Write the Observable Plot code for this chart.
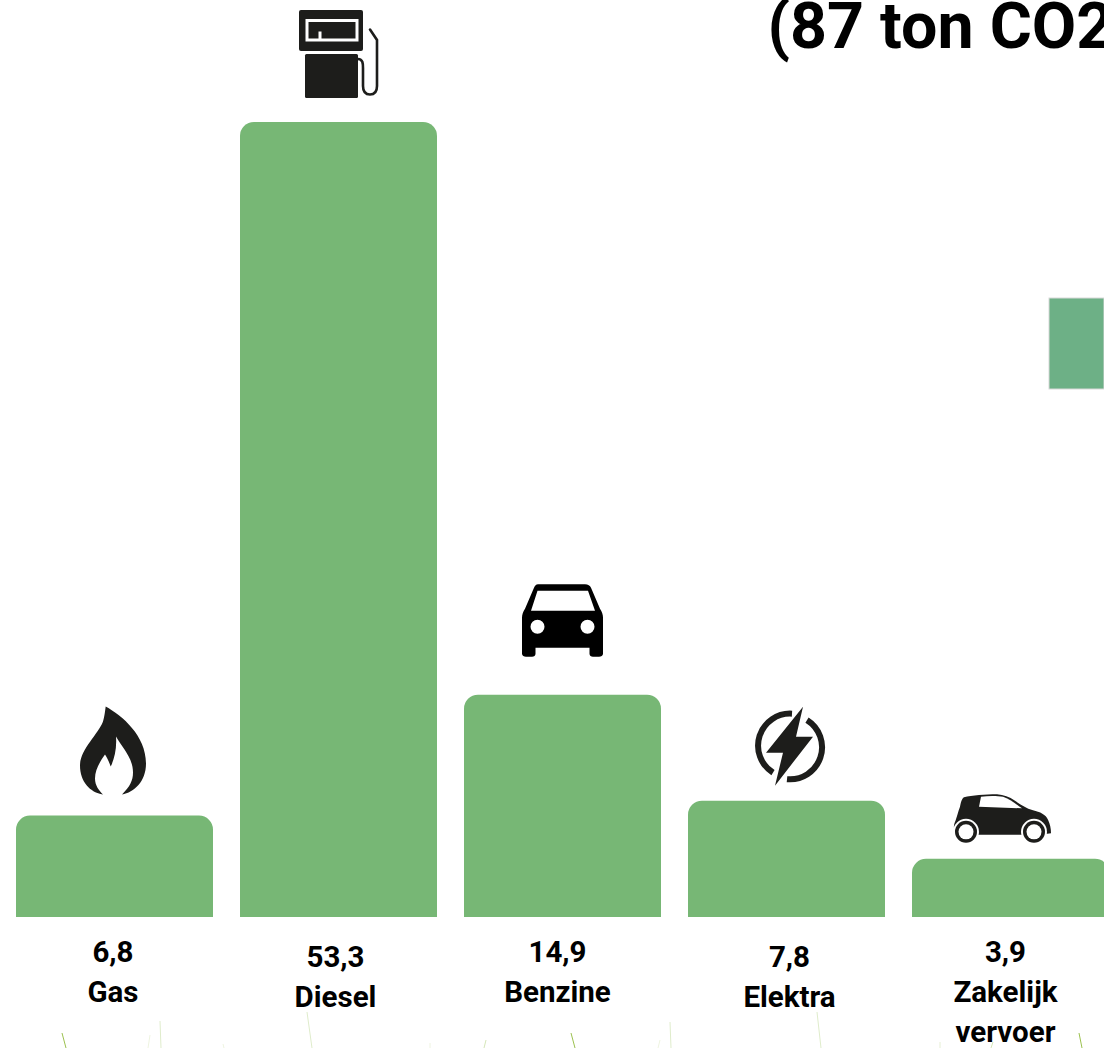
<!DOCTYPE html>
<html>
<head>
<meta charset="utf-8">
<style>
html,body{margin:0;padding:0;background:#fff;overflow:hidden}
svg{display:block}
</style>
<script src="https://cdn.jsdelivr.net/npm/d3@7"></script>
<script src="https://cdn.jsdelivr.net/npm/@observablehq/plot@0.6"></script>
</head>
<body>
<div id="chart"></div>
<script>
const categories = ["Gas", "Diesel", "Benzine", "Elektra", "Zakelijk vervoer"];
const values = [6.8, 53.3, 14.9, 7.8, 3.9];
const valueLabels = ["6,8", "53,3", "14,9", "7,8", "3,9"];
const nameLabels = ["Gas", "Diesel", "Benzine", "Elektra", "Zakelijk\nvervoer"];
const titleText = "(87 ton CO2";

const data = categories.map((c, i) => ({category: c, value: values[i], label: valueLabels[i] + "\n" + nameLabels[i]}));

const GREEN = "#77b775";
const INK = "#1d1d1b";
const labelDx = [-2, -3.5, -5.5, 2.5, -5.5];
const labelDy = [933, 938, 933, 938, 933];

// icon artwork, drawn around the top-centre of each bar
const icons = {
  Gas: {cx: 114.5, top: 816, svg: `<path fill="${INK}" d="M105.7 707C122 716 146 736 146 764C146 782 134 793 122 795C130 787 133 781 133 773C133 758 122 748 116 737C117 750 114 760 110.7 767C109 762 107 758 105 755C100 762 95 770 95 779C95 786 99 791 103 795C90 793 80 782 80 766C80 750 98 735 103 722C104.5 717 105 712 105.7 707Z"/>`},
  Diesel: {cx: 338.5, top: 122, svg: `<rect x="299" y="10" width="64" height="41" rx="2" fill="${INK}"/><path fill="none" stroke="#fff" stroke-width="3" d="M307 20.5H357V40H307ZM320 40V31.5"/><rect x="305" y="54" width="53" height="44" rx="1.5" fill="${INK}"/><path fill="none" stroke="${INK}" stroke-width="2.6" stroke-linecap="round" d="M358 59C363 59 363 64 363 68V86C363 92 366 94.500 370 94.500C374 94.500 377 92 377 86V40L370 29.500"/>`},
  Benzine: {cx: 562.5, top: 695, svg: `<path fill="#000" fill-rule="evenodd" d="M538 584.500H585C588 584.500 590 586 591 588L600 609C602 612 603 615 603 618V654C603 656 601 657 599 657H593C591 657 589.500 656 589.500 654V648H535.500V654C535.500 656 534 657 532 657H526C524 657 522 656 522 654V618C522 615 523 612 525 609L534 588C535 586 536 584.500 538 584.500ZM537.500 591L531 611H595L588 591ZM537.500 620A7 7 0 1 0 537.500 634A7 7 0 1 0 537.500 620ZM587.500 620A7 7 0 1 0 587.500 634A7 7 0 1 0 587.500 620Z"/>`},
  Elektra: {cx: 786.500, top: 801, svg: `<path fill="none" stroke="${INK}" stroke-width="6" d="M792 714A32 32 0 0 0 773 773M807 720.500A32 32 0 0 1 787 779.500"/><path fill="${INK}" d="M803 707L766 753H783L775 786L813 737H796Z"/>`},
  "Zakelijk vervoer": {cx: 1010.500, top: 859, svg: `<path fill="${INK}" d="M955 832C953 828 954 824 955.500 821C957 817 958 812 960 807C961 802 962 798.500 964 797.500C972 795.500 985 794.500 997 794.500C1004 795 1009 797 1015 801C1021 805 1026 808.500 1033 810.500C1040 812 1046 815 1048 820C1050 824 1051 829 1051 833.500L1040 835H960Z"/><path fill="#fff" d="M981 797C988 796 997 796 1003 797C1009 799 1016 804 1022 808.500L979 807Z"/><circle cx="966" cy="832" r="13" fill="#fff"/><circle cx="1034" cy="832" r="13" fill="#fff"/><circle cx="966" cy="832" r="11" fill="${INK}"/><circle cx="1034" cy="832" r="11" fill="${INK}"/><circle cx="966" cy="832" r="7.500" fill="#fff"/><circle cx="1034" cy="832" r="7.500" fill="#fff"/>`}
};

const blades = [
  [62,1033,66,1048,"#9cc14f"],[150,1035,148,1048,"#eef4e0"],[160,1021,161,1048,"#dfeccb"],[223,1044,224,1048,"#eef4e0"],
  [307,1012,312,1048,"#dfeccb"],[430,1043,430,1048,"#eef4e0"],[486,1040,484,1048,"#d5e6b8"],[571,1033,575,1048,"#9cc14f"],
  [660,1040,658,1048,"#eef4e0"],[670,1022,671,1048,"#dfeccb"],[817,1012,821,1048,"#dfeccb"],[940,1042,940,1048,"#e6efd4"],
  [993,1042,991,1048,"#d5e6b8"],[1079,1033,1082,1048,"#9cc14f"]
];

const iconMark = (index, {x, y}) => {
  const g = d3.create("svg:g");
  categories.forEach((c, i) => {
    const ic = icons[c];
    const tx = x(c) + x.bandwidth() / 2 - ic.cx;
    const ty = y(values[i]) - ic.top;
    g.append("g").attr("transform", `translate(${tx},${ty})`).html(ic.svg);
  });
  return g.node();
};

const decoration = () => {
  const g = d3.create("svg:g");
  g.append("rect").attr("x", 1049).attr("y", 298).attr("width", 55).attr("height", 91)
    .attr("fill", "#6db086").attr("stroke", "#d9d9d9").attr("stroke-width", 1);
  g.selectAll("line").data(blades).join("line")
    .attr("x1", d => d[0]).attr("y1", d => d[1]).attr("x2", d => d[2]).attr("y2", d => d[3])
    .attr("stroke", d => d[4]).attr("stroke-width", 1);
  return g.node();
};

const plot = Plot.plot({
  width: 1104,
  height: 1048,
  margin: 0,
  style: {background: "#fff", fontFamily: "Roboto"},
  x: {type: "band", domain: categories, range: [16, 1109], paddingInner: 27 / 224, paddingOuter: 0, axis: null},
  y: {domain: [0, 53.3], range: [917, 122], axis: null},
  marks: [
    decoration,
    Plot.barY(data, {x: "category", y: "value", fill: GREEN, ry1: 14, rx: 14}),
    iconMark,
    ...data.map((d, i) => Plot.text([d], {
      x: "category", text: "label", frameAnchor: "top", lineAnchor: "top",
      dx: labelDx[i], dy: labelDy[i], fontSize: 29.5, fontWeight: 700, lineHeight: 1.356,
      fill: "#000", fontFamily: "Roboto"
    })),
    Plot.text([titleText], {
      frameAnchor: "top-left", textAnchor: "start", lineAnchor: "top",
      dx: 767, dy: 1.5, fontSize: 64.5, fontWeight: 700, fill: "#000", fontFamily: "Roboto"
    })
  ]
});
document.getElementById("chart").appendChild(plot);
</script>
</body>
</html>
